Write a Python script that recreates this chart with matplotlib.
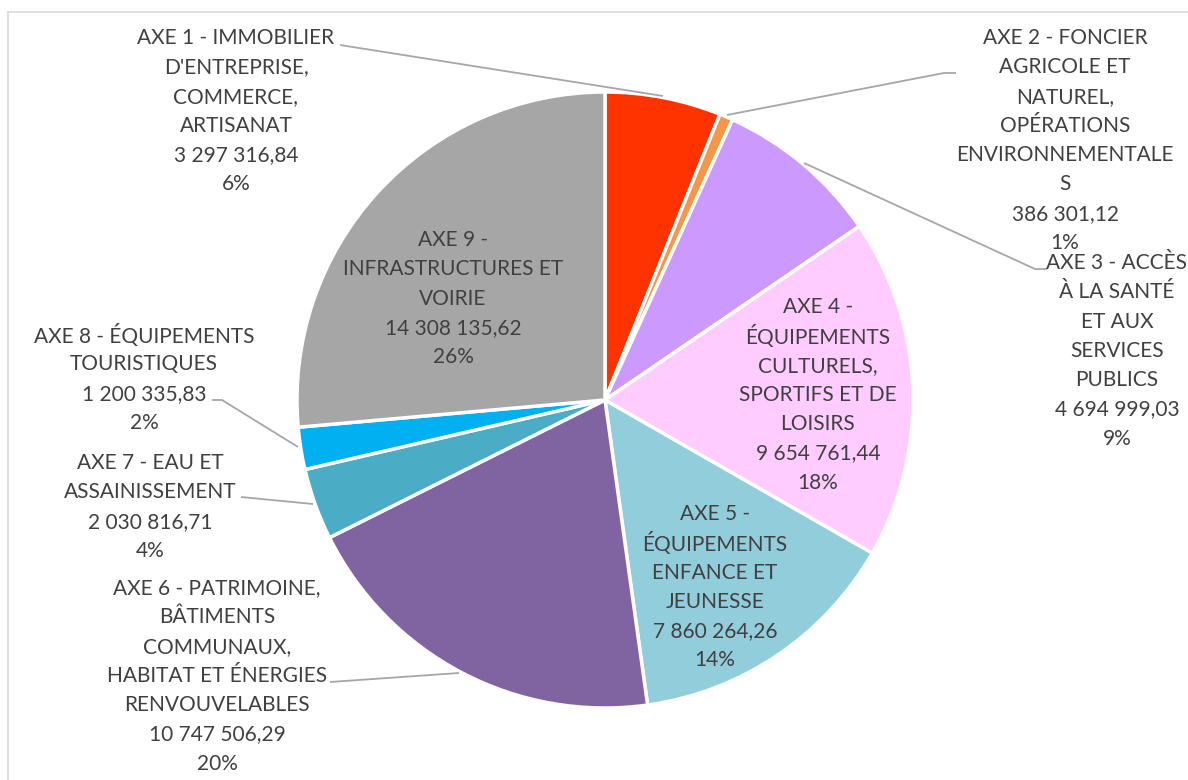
import matplotlib
matplotlib.use("Agg")
import matplotlib.pyplot as plt
from matplotlib.lines import Line2D

# --- data --------------------------------------------------------------------
categories = [
    "AXE 1 - IMMOBILIER\nD'ENTREPRISE,\nCOMMERCE,\nARTISANAT",
    "AXE 2 - FONCIER\nAGRICOLE ET\nNATUREL,\nOPÉRATIONS\nENVIRONNEMENTALE\nS",
    "AXE 3 - ACCÈS\nÀ LA SANTÉ\nET AUX\nSERVICES\nPUBLICS",
    "AXE 4 -\nÉQUIPEMENTS\nCULTURELS,\nSPORTIFS ET DE\nLOISIRS",
    "AXE 5 -\nÉQUIPEMENTS\nENFANCE ET\nJEUNESSE",
    "AXE 6 - PATRIMOINE,\nBÂTIMENTS\nCOMMUNAUX,\nHABITAT ET ÉNERGIES\nRENVOUVELABLES",
    "AXE 7 - EAU ET\nASSAINISSEMENT",
    "AXE 8 - ÉQUIPEMENTS\nTOURISTIQUES",
    "AXE 9 -\nINFRASTRUCTURES ET\nVOIRIE",
]
values = [3297316.84, 386301.12, 4694999.03, 9654761.44, 7860264.26,
          10747506.29, 2030816.71, 1200335.83, 14308135.62]
percents = ["6%", "1%", "9%", "18%", "14%", "20%", "4%", "2%", "26%"]

colors = ["#FF3300", "#F79646", "#CC99FF", "#FFCCFF", "#92CDDC",
          "#8064A2", "#4BACC6", "#00B0F0", "#A6A6A6"]

# label layout (pixel coords): centre x, y of first line
label_pos = [(236, 38), (1065, 38), (1117, 263), (818, 307), (715, 514),
             (217, 588), (150, 463), (144, 335), (453, 240)]

# leader lines (pixel coords)
leaders = [
    [(340, 45), (663, 96)],
    [(956, 73), (944, 73), (727, 115)],
    [(804, 163), (1035, 269), (1047, 269)],
    None, None,
    [(330, 682), (459, 673)],
    [(241, 497), (313, 504)],
    [(212, 400), (222, 400), (298, 447)],
    None,
]

W, H = 1188, 780
LINE_H = 29.3
TEXT_COLOR = "#404040"


def fmt_value(v):
    return f"{v:,.2f}".replace(",", " ").replace(".", ",")


fig = plt.figure(figsize=(W / 100, H / 100), dpi=100)
ax = fig.add_axes([0, 0, 1, 1])

ax.pie(
    values, colors=colors, startangle=-90, counterclock=True,
    center=(605, 400), radius=308,
    wedgeprops=dict(edgecolor="white", linewidth=2.5),
)
ax.set_xlim(0, W)
ax.set_ylim(H, 0)
ax.set_aspect("equal", adjustable="box")
ax.axis("off")

for name, v, pct, (cx, y0), ld in zip(categories, values, percents, label_pos, leaders):
    lines = name.split("\n") + [fmt_value(v), pct]
    for i, s in enumerate(lines):
        ax.text(cx, y0 + i * LINE_H, s, ha="center", va="center",
                fontsize=15, family="Lato", color=TEXT_COLOR)
    if ld:
        xs, ys = zip(*ld)
        ax.plot(xs, ys, color="#A6A6A6", lw=1.3, solid_capstyle="butt")

# chart area border (only top and left visible in the crop)
fig.add_artist(Line2D([8 / W, 8 / W], [0, 1 - 12 / H], color="#D9D9D9", lw=1.2))
fig.add_artist(Line2D([8 / W, 1], [1 - 12 / H, 1 - 12 / H], color="#D9D9D9", lw=1.2))

fig.savefig("out.png", dpi=100)
